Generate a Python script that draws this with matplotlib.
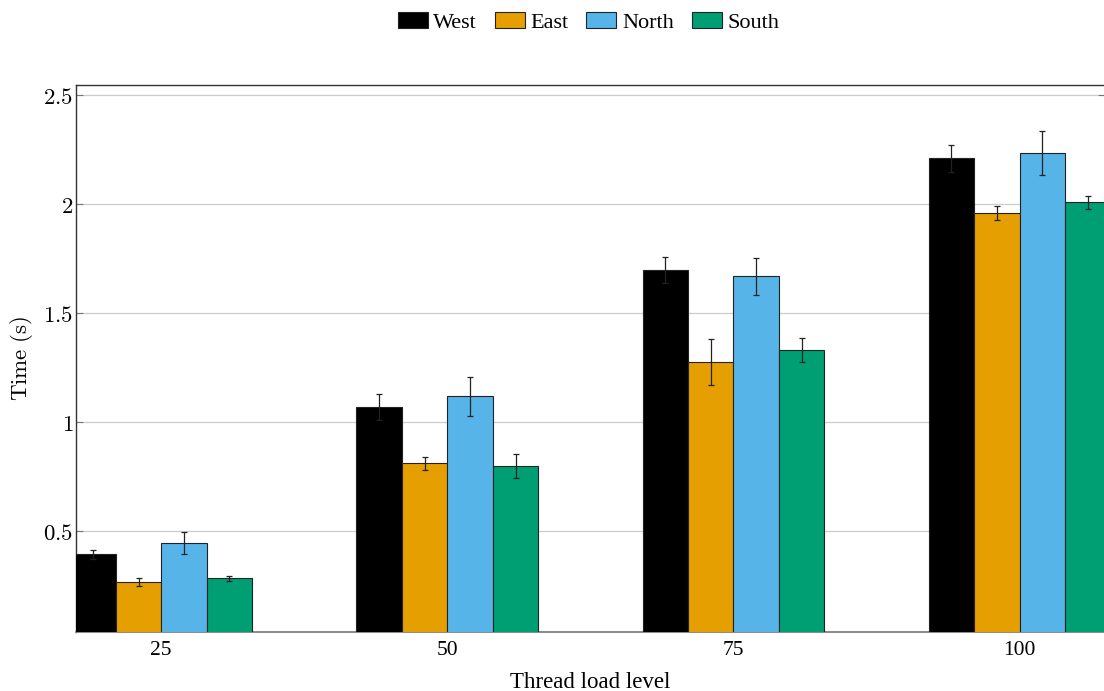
import numpy as np
import matplotlib.pyplot as plt
from matplotlib.ticker import FuncFormatter

# Data
load_levels = [25, 50, 75, 100]
regions = ["West", "East", "North", "South"]
colors = ["#000000", "#E69F00", "#56B4E9", "#009E73"]

west = [0.394, 1.069, 1.697, 2.212]
east = [0.265, 0.812, 1.275, 1.959]
north = [0.444, 1.119, 1.670, 2.235]
south = [0.283, 0.798, 1.330, 2.009]

west_err = [0.020, 0.060, 0.060, 0.062]
east_err = [0.018, 0.030, 0.105, 0.032]
north_err = [0.050, 0.090, 0.085, 0.100]
south_err = [0.012, 0.055, 0.055, 0.030]

values = [west, east, north, south]
errors = [west_err, east_err, north_err, south_err]

serif = ["Liberation Serif", "DejaVu Serif"]
plt.rcParams["mathtext.fontset"] = "cm"

fig = plt.figure(figsize=(11.04, 6.91), dpi=100)
# axes run slightly past the right edge, as in the cropped reference
ax = fig.add_axes([0.0688, 0.0858, 0.932, 0.791])

bar_w = 3.97
x = np.array(load_levels, dtype=float)
for i, (name, vals, errs, col) in enumerate(zip(regions, values, errors, colors)):
    offs = (i - 1.5) * bar_w
    ax.bar(x + offs, vals, width=bar_w, color=col, edgecolor="#222222",
           linewidth=0.8, label=name, zorder=3)
    ax.errorbar(x + offs, vals, yerr=errs, fmt="none", ecolor="#222222",
                elinewidth=0.9, capsize=2.5, capthick=0.9, zorder=4)

ax.set_xlim(17.55, 107.45)
ax.set_ylim(0.038, 2.547)
ax.set_xticks(load_levels)
ax.set_xticklabels([str(v) for v in load_levels], fontfamily=serif, fontsize=15.5)
ax.set_yticks([0.5, 1, 1.5, 2, 2.5])
ax.yaxis.set_major_formatter(FuncFormatter(lambda v, p: f"${v:g}$"))
ax.tick_params(axis="y", direction="in", length=5, color="#777777",
               labelsize=16.5, left=True, right=True, pad=2)
ax.tick_params(axis="x", length=0, pad=7)
ax.grid(axis="y", color="#cccccc", linewidth=0.9, zorder=0)

for s in ["left", "top", "right"]:
    ax.spines[s].set_color("#333333")
    ax.spines[s].set_linewidth(1.0)
ax.spines["bottom"].set_color("#777777")
ax.spines["bottom"].set_linewidth(1.2)

ax.set_ylabel(r"$\mathrm{Time\ (s)}$", fontsize=16.5, labelpad=6)
ax.set_xlabel("Thread load level", fontfamily=serif, fontsize=16.5, labelpad=8)

fig.legend(loc="upper center", bbox_to_anchor=(0.533, 1.012), ncol=4, frameon=False,
           prop={"family": serif, "size": 16}, handlelength=1.35, handleheight=0.75,
           handletextpad=0.25, columnspacing=0.8)

fig.savefig("out.png", dpi=100)
